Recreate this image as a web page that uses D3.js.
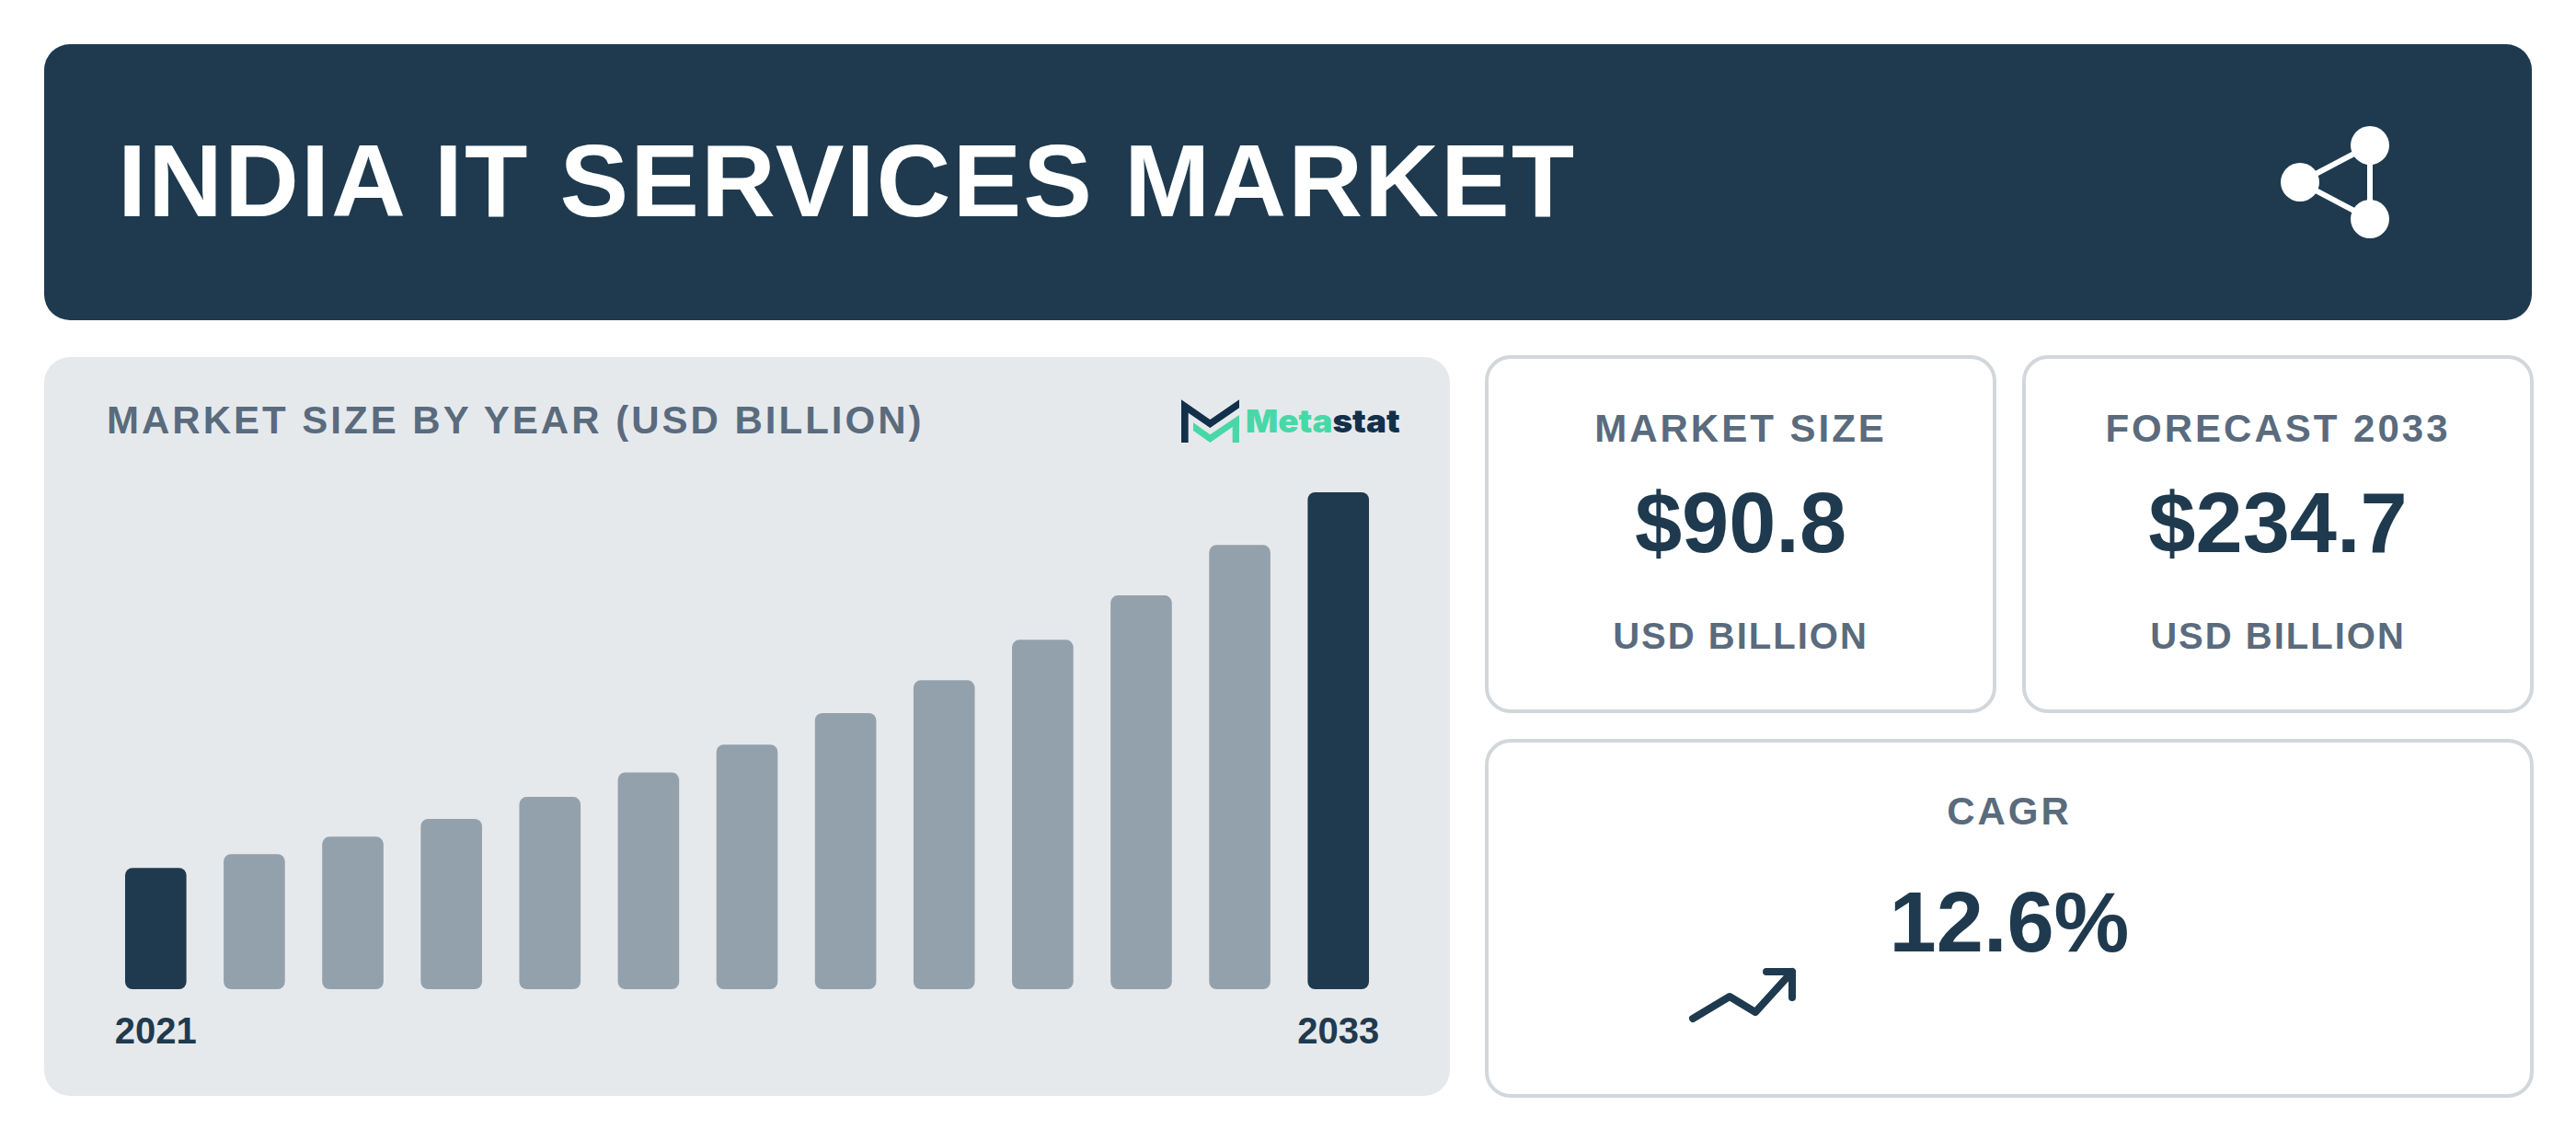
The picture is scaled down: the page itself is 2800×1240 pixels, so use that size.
<!DOCTYPE html>
<html>
<head>
<meta charset="utf-8">
<script src="https://d3js.org/d3.v7.min.js"></script>
<style>
html, body { margin: 0; padding: 0; background: #fff; }
svg { display: block; }
text { font-family: "Liberation Sans", Arial, sans-serif; }
</style>
</head>
<body>
<div id="chart"></div>
<script>
// values
var anos = ["2021","2022","2023","2024","2025","2026","2027","2028","2029","2030","2031","2032","2033"]
var valores = [57.3, 63.8, 72.0, 80.4, 90.8, 102.4, 115.5, 130.4, 145.9, 165.0, 186.0, 209.8, 234.7]
var anos_rotulo = ["2021","2033"]
var destaque = ["2021","2033"]

var titulo = "INDIA IT SERVICES MARKET"
var titulo_grafico = "MARKET SIZE BY YEAR (USD BILLION)"
var cards = [
    {titulo: "MARKET SIZE", valor: "$90.8", unidade: "USD BILLION", x: 1616, w: 552},
    {titulo: "FORECAST 2033", valor: "$234.7", unidade: "USD BILLION", x: 2200, w: 552}
]

var escuro = "#1f3a4e", cinza = "#93a1ac", texto_cinza = "#5a6b7d", painel = "#e6e9ec", borda = "#d2d7db"

var svg = d3.select("#chart").append("svg").attr("width", 2800).attr("height", 1240)

// cabecalho
svg.append("rect").attr("x", 48).attr("y", 48).attr("width", 2704).attr("height", 300).attr("rx", 28).attr("fill", escuro)
svg.append("text").attr("x", 128).attr("y", 235).attr("font-size", 112).attr("font-weight", 700)
    .attr("letter-spacing", 2).attr("fill", "#fff").text(titulo)

var share = svg.append("g")
share.append("path").attr("d", "M2500 198L2576 158V238Z").attr("fill", "none").attr("stroke", "#fff").attr("stroke-width", 6)
share.selectAll("circle").data([[2500,198],[2576,158],[2576,238]]).enter().append("circle")
    .attr("cx", function (d) { return d[0] }).attr("cy", function (d) { return d[1] }).attr("r", 21).attr("fill", "#fff")

// painel do grafico
svg.append("rect").attr("x", 48).attr("y", 388).attr("width", 1528).attr("height", 803).attr("rx", 28).attr("fill", painel)
svg.append("text").attr("x", 116).attr("y", 471).attr("font-size", 42).attr("font-weight", 700)
    .attr("letter-spacing", 3).attr("fill", texto_cinza).text(titulo_grafico)

var x = d3.scaleBand().domain(anos).range([116.7, 1507.3]).paddingInner(0.378).paddingOuter(0.18)
var y = d3.scaleLinear().domain([0, 234.7]).range([1075, 535])

svg.selectAll(".barra").data(anos).enter().append("rect")
    .attr("class", "barra")
    .attr("x", function (d) { return x(d) })
    .attr("y", function (d, i) { return y(valores[i]) })
    .attr("width", x.bandwidth())
    .attr("height", function (d, i) { return y(0) - y(valores[i]) })
    .attr("rx", 8)
    .attr("fill", function (d) { return destaque.indexOf(d) > -1 ? escuro : cinza })

var eixo = svg.append("g").attr("transform", "translate(0,1076)")
    .call(d3.axisBottom(x).tickValues(anos_rotulo).tickSize(0).tickPadding(0))
eixo.select(".domain").remove()
eixo.selectAll("text").attr("y", 0).attr("dy", 0).attr("transform", "translate(0,58)")
    .attr("font-family", "Liberation Sans").attr("font-size", 40).attr("font-weight", 700).attr("fill", escuro)

// logo
var logo = svg.append("g").attr("transform", "translate(1200,380) scale(0.3333)")
logo.append("path").attr("fill", "#12304a")
    .attr("d", "M252 163L346 228L441 163V190L346 255L275 206V303H252Z")
logo.append("path").attr("fill", "#48d8a8")
    .attr("d", "M291 238L346 277L441 213V303H419V252L346 303L291 264Z")
var logo_txt = logo.append("text").attr("x", 462).attr("y", 270).attr("font-size", 103)
    .style("font-family", "Inter").attr("font-weight", 900).attr("textLength", 503).attr("lengthAdjust", "spacingAndGlyphs")
logo_txt.append("tspan").attr("fill", "#48d8a8").text("Meta")
logo_txt.append("tspan").attr("fill", "#12304a").text("stat")

// cards
function card_box(x0, y0, w, h) {
    svg.append("rect").attr("x", x0).attr("y", y0).attr("width", w).attr("height", h)
        .attr("rx", 26).attr("fill", "#fff").attr("stroke", borda).attr("stroke-width", 4)
}
function rotulo(cx, yy, size, sp, cor, s) {
    svg.append("text").attr("x", cx).attr("y", yy).attr("text-anchor", "middle").attr("font-size", size)
        .attr("font-weight", 700).attr("letter-spacing", sp).attr("fill", cor).text(s)
}
cards.forEach(function (c) {
    card_box(c.x, 388, c.w, 385)
    var cx = c.x + c.w / 2
    rotulo(cx, 480, 42, 3, texto_cinza, c.titulo)
    rotulo(cx, 600, 92, 0, escuro, c.valor)
    rotulo(cx, 705, 40, 2, texto_cinza, c.unidade)
})

card_box(1616, 805, 1136, 386)
rotulo(2184, 896, 42, 3, texto_cinza, "CAGR")
rotulo(2184, 1034, 92, 0, escuro, "12.6%")

svg.append("path").attr("d", "M1840 1107L1880 1083L1908 1100L1948 1056M1920 1056H1948V1084")
    .attr("fill", "none").attr("stroke", escuro).attr("stroke-width", 8)
    .attr("stroke-linecap", "round").attr("stroke-linejoin", "round")
</script>
</body>
</html>
